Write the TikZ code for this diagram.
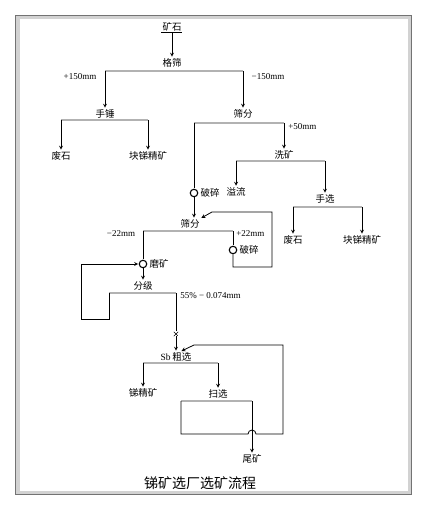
\documentclass[tikz,border=0pt]{standalone}
\usepackage{fontspec}
\setmainfont{Liberation Serif}
\newfontfamily\cjk{Noto Sans CJK SC}
\usepackage{tikz}
\usetikzlibrary{positioning}
\usetikzlibrary{arrows}
\usetikzlibrary{shapes.misc}
\definecolor{framegray}{rgb}{0.45,0.45,0.45}

\begin{document}
\begin{tikzpicture}[
            x = 1pt, y = -1pt, % pixel grid, y runs downwards
            > = stealth, % arrow head style
            shorten > = 0.5pt, % don't touch arrow head to text
            line width = 0.8pt % line style
        ]

        \tikzstyle{every node}=[inner sep = 1pt]
        \tikzstyle{op}=[font = \cjk\fontsize{9.5}{10}\selectfont]
        \tikzstyle{size}=[font = \fontsize{9}{10}\selectfont]
        \tikzstyle{deck}=[line width = 0.8pt, double = gray!60, double distance = 1.3pt]
        \tikzstyle{mill}=[circle, draw, line width = 1.1pt, fill = white, minimum size = 7.5pt, inner sep = 0pt]

        \useasboundingbox (0,0) rectangle (426,510);

        % frame
        \draw[line width = 4pt, gray!35] (17.5,17.5) rectangle (409.5,492.5);
        \draw[line width = 1pt, framegray] (15.5,15.5) rectangle (411.5,494.5);

	% ore and grizzly
        \node[op] (KS) at (172,27) {矿石};
        \draw (KS.south west) -- (KS.south east);
        \node[op] (GS) at (172,63) {格筛};
        \path[->] (KS) edge node {} (GS);

        \coordinate (G1) at (105,71);
        \coordinate (G2) at (243,71);
        \draw[deck] (G1) -- (G2);
        \node[size] (P150) at (80,77) {+150mm};
        \node[size] (M150) at (268,77) {−150mm};

        \node[op] (SC) at (105,114) {手锤};
        \node[op] (SF1) at (243,114) {筛分};
        \path[->] (G1) edge node {} (SC);
        \path[->] (G2) edge node {} (SF1);

        % hand hammer
        \coordinate (H1) at (61,120);
        \coordinate (H2) at (148,120);
        \draw[deck] (H1) -- (H2);
        \node[op] (FS1) at (61,156) {废石};
        \node[op] (KJ1) at (148,156) {块锑精矿};
        \path[->] (H1) edge node {} (FS1);
        \path[->] (H2) edge node {} (KJ1);

        % screening, +50mm
        \coordinate (S1) at (194,123);
        \coordinate (S2) at (284,123);
        \draw[deck] (S1) -- (S2);
        \node[size, anchor = west] (P50) at (287,127) {+50mm};
        \node[op] (XK) at (284,155) {洗矿};
        \path[->] (S2) edge node {} (XK);

        \coordinate (W1) at (236,161);
        \coordinate (W2) at (325,161);
        \draw[deck] (W1) -- (W2);
        \node[op] (YL) at (236,192) {溢流};
        \node[op] (SX) at (325,199) {手选};
        \path[->] (W1) edge node {} (YL);
        \path[->] (W2) edge node {} (SX);

        \coordinate (T1) at (293,207);
        \coordinate (T2) at (362,207);
        \draw[deck] (T1) -- (T2);
        \node[op] (FS2) at (293,240) {废石};
        \node[op] (KJ2) at (362,240) {块锑精矿};
        \path[->] (T1) edge node {} (FS2);
        \path[->] (T2) edge node {} (KJ2);

        % crushing, -50mm
        \node[mill] (PS1) at (194,193) {};
        \node[op, right = 1pt of PS1] (PS1L) {破碎};
        \draw (S1) -- (PS1);
        \node[op] (SF2) at (190,224) {筛分};
        \draw[->] (PS1) -- (PS1 |- SF2.north);

        \coordinate (R1) at (143,231);
        \coordinate (R2) at (233,231);
        \draw[deck] (R1) -- (R2);
        \node[size] (M22) at (121,234) {−22mm};
        \node[size, anchor = west] (P22) at (235,234) {+22mm};

        \node[mill] (PS2) at (233,250) {};
        \node[op, right = 1pt of PS2] (PS2L) {破碎};
        \draw (R2) -- (PS2);
        \coordinate (B1) at (233,267);
        \coordinate (B2) at (272,267);
        \coordinate (B3) at (272,212);
        \coordinate (B4) at (212,212);
        \draw[->] (PS2) -- (B1) -- (B2) -- (B3) -- (B4) -- (SF2.north east);

        % grinding and classifying
        \node[mill] (MK) at (143,264) {};
        \node[op, right = 1pt of MK] (MKL) {磨矿};
        \draw (R1) -- (MK);
        \node[op] (FJ) at (143,286) {分级};
        \path[->] (MK) edge node {} (FJ);

        \coordinate (C1) at (109,293);
        \coordinate (C2) at (176,293);
        \draw[deck] (C1) -- (C2);
        \node[size, anchor = west] (FIN) at (179,296) {55\% − 0.074mm};

        \coordinate (L1) at (109,319);
        \coordinate (L2) at (81,319);
        \coordinate (L3) at (81,264);
        \draw[->] (C1) -- (L1) -- (L2) -- (L3) -- (MK);

        % flotation
        \node[draw, cross out, thin, minimum size = 4pt, inner sep = 0pt] (XX) at (176,334) {};
        \draw (C2) -- (XX);
        \node[op] (SB) at (176,357) {{\rmfamily Sb}\,粗选};
        \path[->] (XX) edge node {} (SB);

        \coordinate (F1) at (143,363);
        \coordinate (F2) at (218,363);
        \draw[deck] (F1) -- (F2);
        \node[op] (SJK) at (143,393) {锑精矿};
        \node[op] (SX2) at (218,394) {扫选};
        \path[->] (F1) edge node {} (SJK);
        \path[->] (F2) edge node {} (SX2);

        \coordinate (Z1) at (181,401);
        \coordinate (Z2) at (252,401);
        \draw[deck] (Z1) -- (Z2);
        \node[op] (WK) at (252,459) {尾矿};
        \path[->] (Z2) edge node {} (WK);

        % scavenger return
        \coordinate (D1) at (181,434);
        \coordinate (D2) at (248,434);
        \coordinate (Q1) at (283,434);
        \coordinate (Q2) at (283,345);
        \coordinate (Q3) at (194,345);
        \draw[->] (Z1) -- (D1) -- (D2) arc[start angle = 180, end angle = 360, radius = 4]
            -- (Q1) -- (Q2) -- (Q3) -- ([xshift = 5pt]SB.north);

        \node[font = \cjk\fontsize{14}{16}\selectfont] (TITLE) at (200,483) {锑矿选厂选矿流程};

  \end{tikzpicture}
\end{document}
